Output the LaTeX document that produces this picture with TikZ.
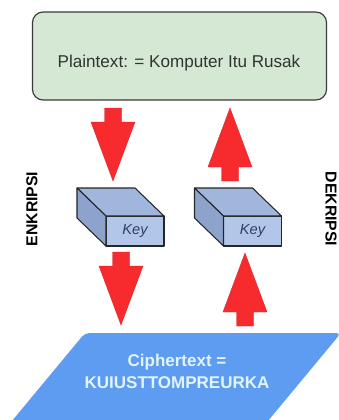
\documentclass[tikz,border=0pt]{standalone}
\usepackage{fontspec}
\setmainfont{Liberation Sans}

\definecolor{plainfill}{HTML}{D5E8D4}
\definecolor{plaindraw}{HTML}{3A3A3A}
\definecolor{plainink}{HTML}{333333}
\definecolor{keyfront}{HTML}{B2C6EA}
\definecolor{keytop}{HTML}{A0B6DC}
\definecolor{keyside}{HTML}{8DA3CB}
\definecolor{keyink}{HTML}{2E4068}
\definecolor{arrowred}{HTML}{F72A2E}
\definecolor{cipherfill}{HTML}{5E9CF2}
\definecolor{cipherink}{HTML}{E2F4FF}

\begin{document}
\begin{tikzpicture}
	  [x=0.03cm,y=-0.03cm,
	   plainbox/.style={draw=plaindraw,fill=plainfill,line width=1pt,rounded corners=9pt,
	     minimum width=8.82cm,minimum height=2.64cm},
	   keyedge/.style={draw=black!85,line width=0.9pt,line join=round},
	   keyface/.style={keyedge,fill=keyfront,minimum width=1.74cm,minimum height=0.9cm,
	     inner sep=0pt,outer sep=0pt,text=keyink,font=\fontsize{12.5}{15}\selectfont\itshape},
	   sidelabel/.style={font=\fontsize{13.5}{16}\selectfont\bfseries},
	   blockarrow/.pic={
	     \fill[arrowred,draw=arrowred!85!black,line width=0.3pt]
	       (-8.5,0) -- (8.5,0) -- (8.5,14) -- (22,14) -- (0,73) -- (-22,14) -- (-8.5,14) -- cycle;}]
	  \useasboundingbox (0,0) rectangle (339,420);
	  \fill[white] (0,0) rectangle (339,420);

	  % plaintext box
	  \node[plainbox] (plain) at (179.5,56) {};
	  \node[text=plainink,font=\fontsize{14.6}{17}\selectfont] (plaintxt) at (179,63)
	    {Plaintext: = Komputer Itu Rusak};

	  % ciphertext parallelogram, cut off at the page edge
	  \begin{scope}
	    \clip (0,0) rectangle (339,420);
	    \fill[cipherfill,rounded corners=4pt] (85,333) -- (341,333) -- (248,445) -- (-8,445) -- cycle;
	  \end{scope}
	  \node[text=cipherink,align=center,font=\fontsize{14.5}{18.8}\selectfont\bfseries] (cipher)
	    at (177,371) {Ciphertext =\\KUIUSTTOMPREURKA};

	  % the two keys
	  \node[keyface] (key1) at (135,231) {Key};
	  \node[keyface] (key2) at (252.5,231) {Key};
	  \foreach \k in {key1,key2} {
	    \draw[keyedge,fill=keytop] (\k.north west) -- ++(-29,-28) -- ++(58,0) -- (\k.north east) -- cycle;
	    \draw[keyedge,fill=keyside] (\k.north west) -- ++(-29,-28) -- ++(0,30) -- (\k.south west) -- cycle;
	  }

	  \node[sidelabel,rotate=90] (enc) at (32,209) {ENKRIPSI};
	  \node[sidelabel,rotate=-90] (dec) at (331,209) {DEKRIPSI};

	  % red block arrows
	  \pic at (113,108) {blockarrow};
	  \pic at (121,252) {blockarrow};
	  \pic[yscale=-1] at (230,181) {blockarrow};
	  \pic[yscale=-1] at (245,326) {blockarrow};
	\end{tikzpicture}
\end{document}
